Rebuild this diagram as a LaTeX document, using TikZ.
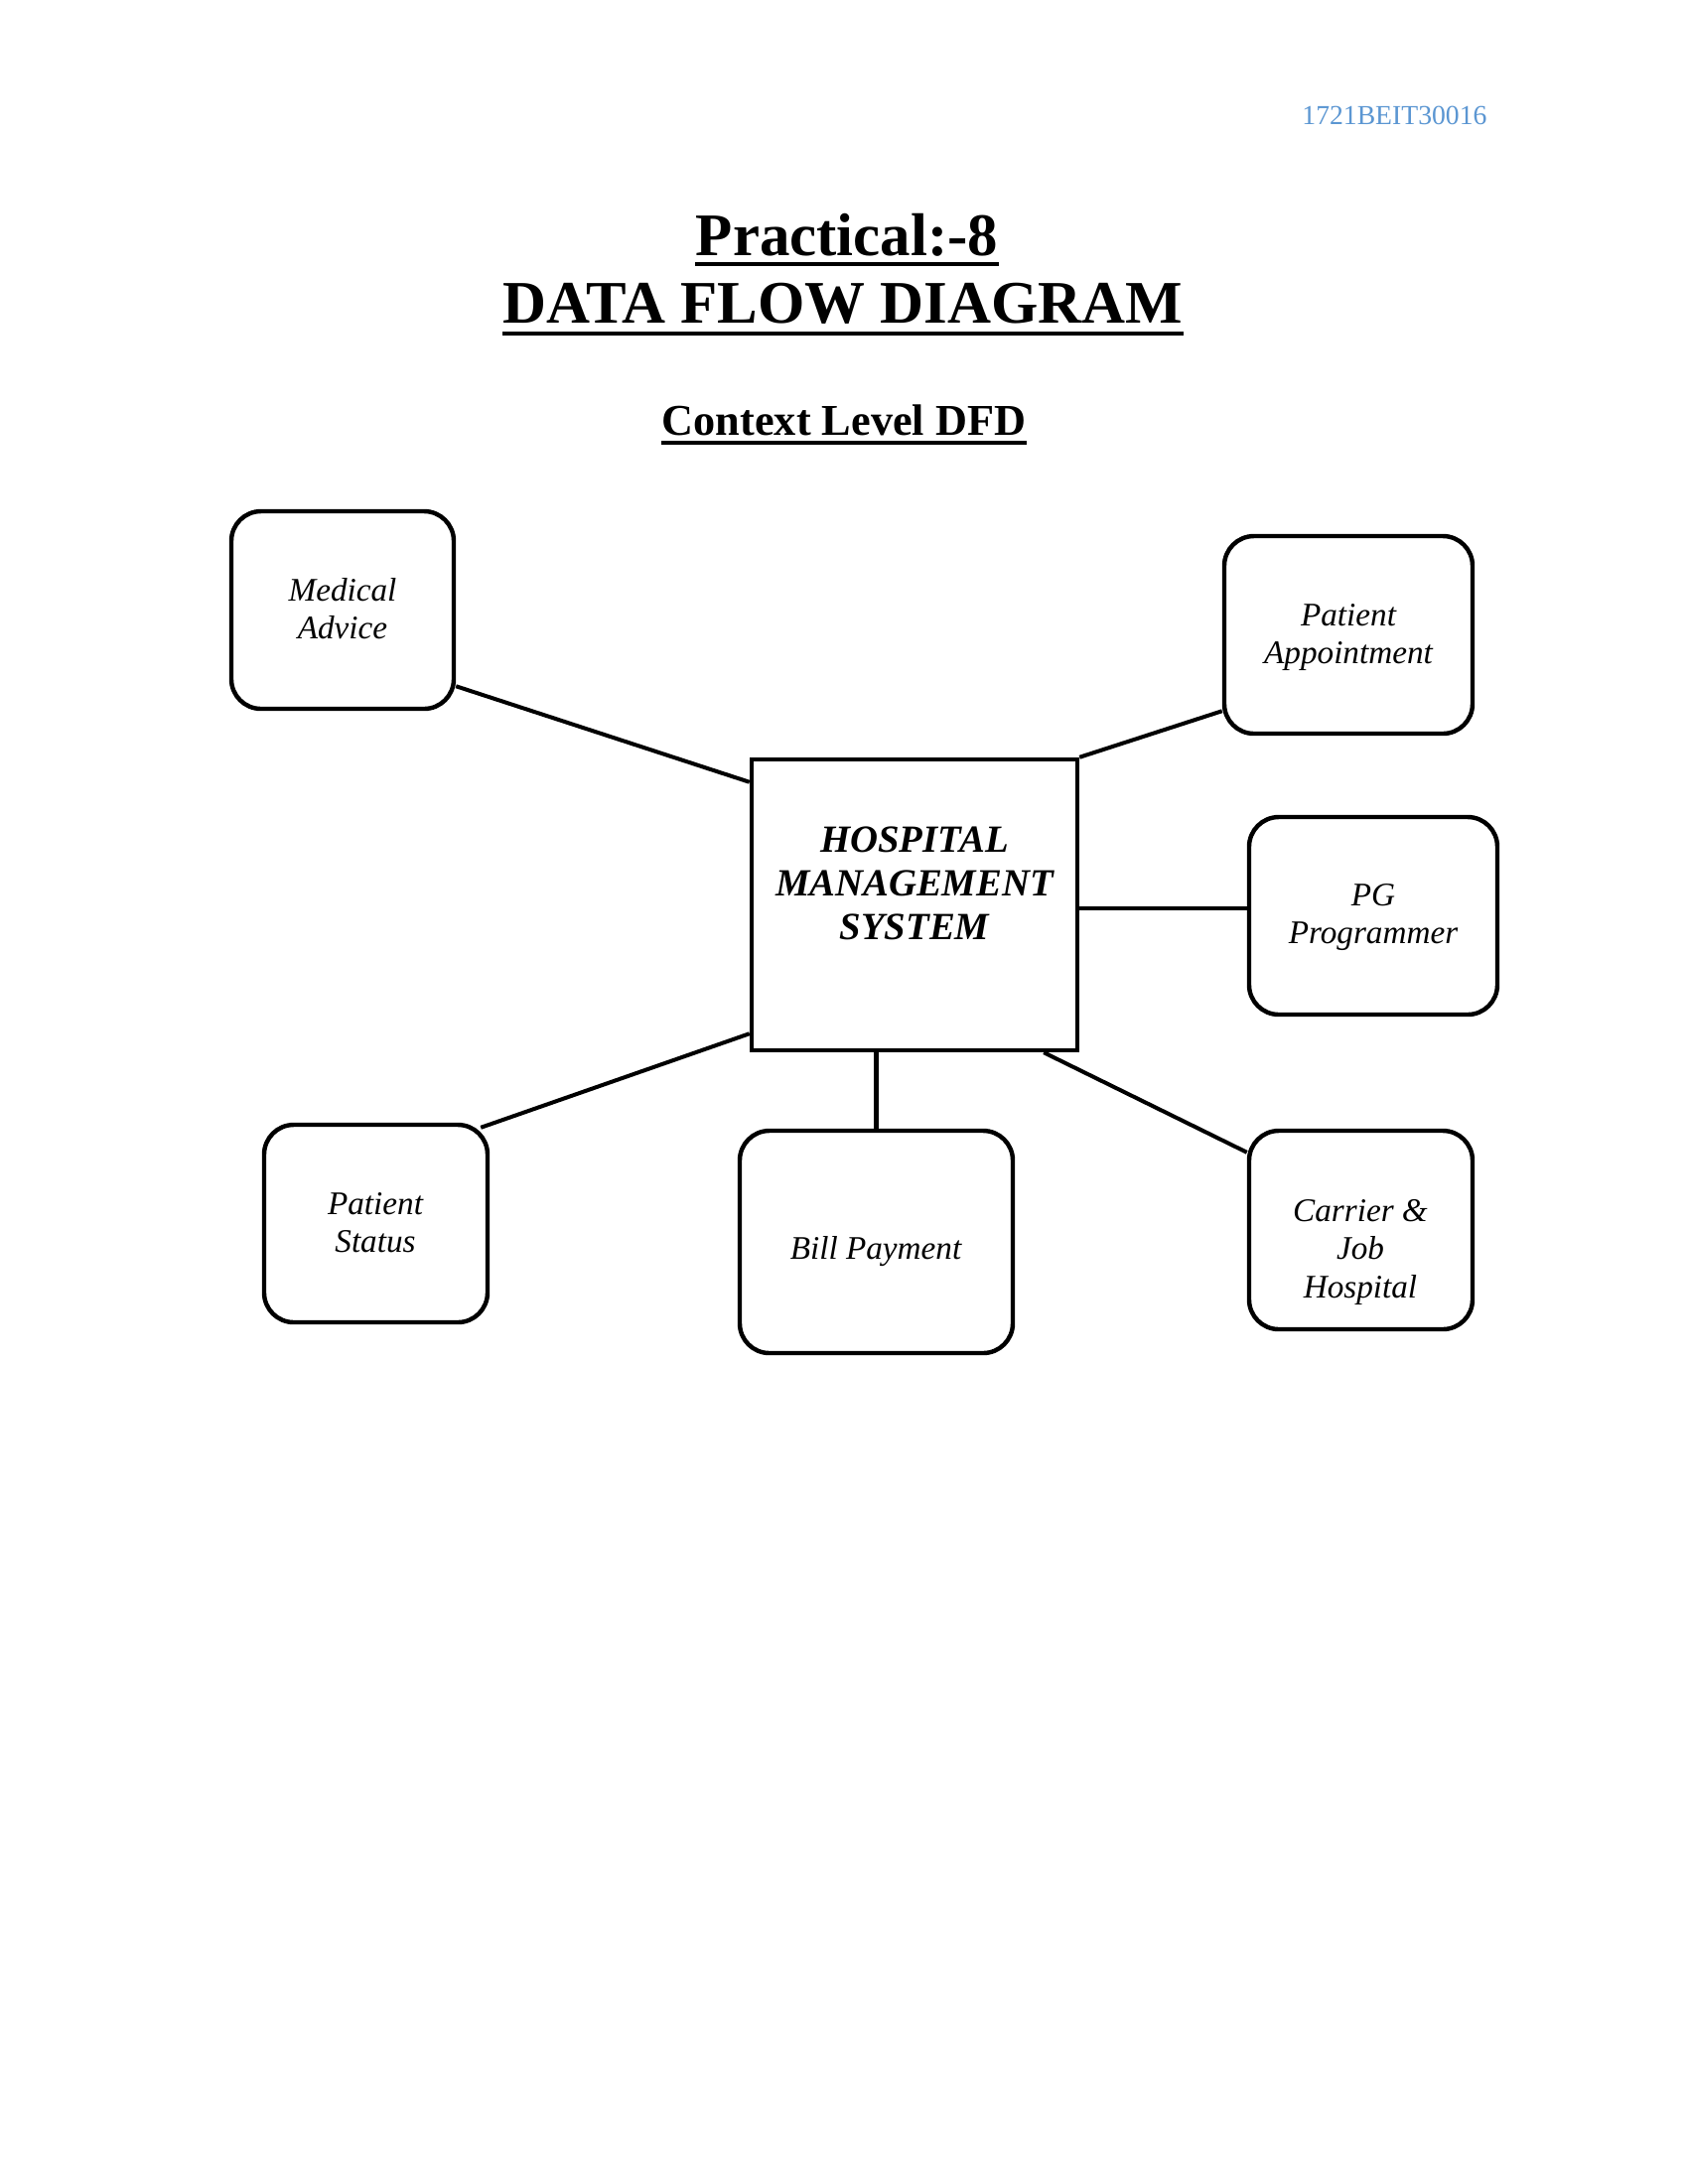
\documentclass[tikz,border=0pt]{standalone}
\usepackage{fontspec}
\setmainfont{Liberation Serif}
\usetikzlibrary{calc,fit}
\definecolor{hdrblue}{RGB}{91,150,210}
\begin{document}
\begin{tikzpicture}[x=0.36135pt,y=-0.36135pt,
  extbox/.style={draw, line width=1.6pt, rounded corners=10.8pt, inner sep=0pt},
  procbox/.style={draw, line width=1.6pt, inner sep=0pt},
  boxtext/.style={anchor=base, inner sep=0pt, font=\fontsize{12}{14}\selectfont\itshape},
  proctext/.style={anchor=base, inner sep=0pt, font=\fontsize{14}{16}\selectfont\bfseries\itshape},
  bigtitle/.style={anchor=base, inner sep=0pt, font=\fontsize{22}{26}\selectfont\bfseries},
  subtitle/.style={anchor=base, inner sep=0pt, font=\fontsize{16}{19}\selectfont\bfseries},
  flow/.style={line width=1.45pt},
  uline/.style={line width=1.45pt},
]
\fill[white] (0,0) rectangle (1700,2200);
\path[use as bounding box] (0,0) rectangle (1700,2200);

% header
\node[anchor=base east, inner sep=0pt, text=hdrblue, font=\fontsize{10}{12}\selectfont] (hdr) at (1498,125) {1721BEIT30016};

% titles
\node[bigtitle] (t1) at (853,257) {Practical:-8};
\node[bigtitle] (t2) at (849,325) {DATA FLOW DIAGRAM};
\node[subtitle] (t3) at (850,438) {Context Level DFD};
\draw[uline] ($(t1.base west)+(0,9)$) -- ($(t1.base east)+(0,9)$);
\draw[uline] ($(t2.base west)+(0,11)$) -- ($(t2.base east)+(0,11)$);
\draw[line width=1.2pt] ($(t3.base west)+(0,8)$) -- ($(t3.base east)+(0,8)$);

% boxes
\node[procbox, fit={(757,765) (1085,1058)}] (hms) {};
\node[extbox, fit={(233,515) (457,714)}] (ma) {};
\node[extbox, fit={(1233,540) (1483,739)}] (pa) {};
\node[extbox, fit={(1258,823) (1508,1022)}] (pg) {};
\node[extbox, fit={(266,1133) (491,1332)}] (ps) {};
\node[extbox, fit={(745,1139) (1020,1363)}] (bp) {};
\node[extbox, fit={(1258,1139) (1483,1339)}] (cj) {};

% texts
\node[proctext] (hmsT) at (921,858) {\begin{tabular}[t]{@{}c@{}}HOSPITAL\\MANAGEMENT\\SYSTEM\end{tabular}};
\node[boxtext] (maT) at (345,605) {\begin{tabular}[t]{@{}c@{}}Medical\\Advice\end{tabular}};
\node[boxtext] (paT) at (1358,630) {\begin{tabular}[t]{@{}c@{}}Patient\\Appointment\end{tabular}};
\node[boxtext] (pgT) at (1383,912) {\begin{tabular}[t]{@{}c@{}}PG\\Programmer\end{tabular}};
\node[boxtext] (psT) at (378,1223) {\begin{tabular}[t]{@{}c@{}}Patient\\Status\end{tabular}};
\node[boxtext] (bpT) at (882,1268) {Bill Payment};
\node[boxtext] (cjT) at (1370,1230) {\begin{tabular}[t]{@{}c@{}}Carrier \&\\Job\\Hospital\end{tabular}};

% connectors
\draw[flow] ($(ma.south east)+(0,-25)$) -- ($(hms.north west)+(0,25)$);
\draw[flow] (hms.north east) -- ($(pa.south west)+(0,-25)$);
\draw[flow] ($(hms.east)+(0,3)$) -- ($(hms.east -| pg.west)+(0,3)$);
\draw[flow] ($(ps.north east)+(-9,5)$) -- ($(hms.south west)+(0,-19)$);
\draw[flow] (bp.north) -- (bp.north |- hms.south);
\draw[flow] ($(hms.south east)+(-36,0)$) -- ($(cj.north west)+(0,24)$);
\end{tikzpicture}
\end{document}
